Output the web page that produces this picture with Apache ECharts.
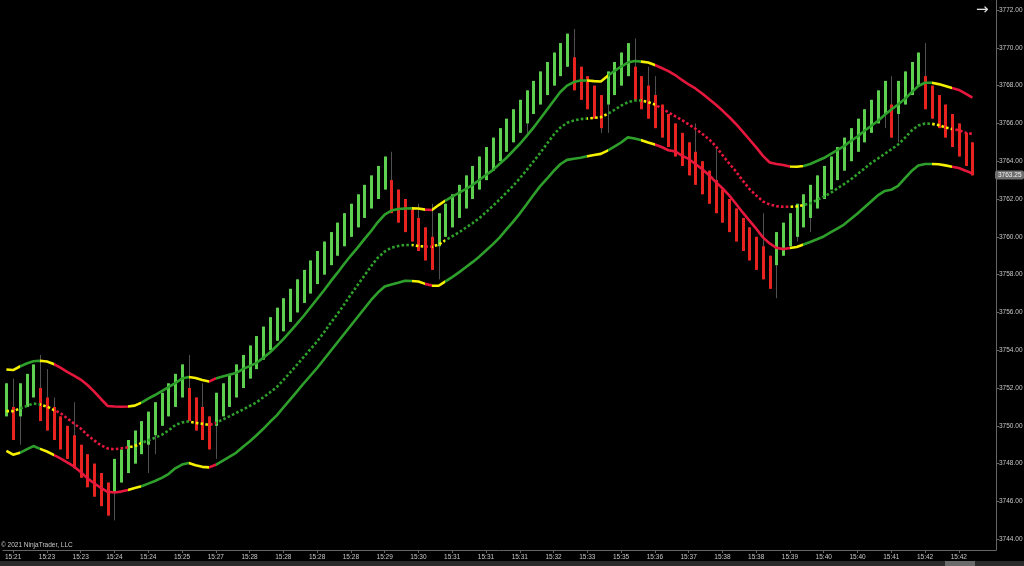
<!DOCTYPE html>
<html>
<head>
<meta charset="utf-8">
<script src="https://cdn.jsdelivr.net/npm/echarts@6/dist/echarts.min.js"></script>
<style>
html,body{margin:0;padding:0;background:#000;}
#c{width:1024px;height:566px;}
</style>
</head>
<body>
<div id="c"></div>
<script>
// ---- data ----
const tickLabels = ["15:21","15:23","15:23","15:24","15:24","15:25","15:27","15:28","15:28","15:28","15:28","15:29","15:30","15:31","15:31","15:31","15:32","15:33","15:35","15:36","15:37","15:38","15:38","15:39","15:40","15:40","15:41","15:42","15:42"];

const opens = [3750.5,3751,3750.5,3751,3751.5,3752,3751.5,3751,3750.5,3750,3749.5,3749,3748.5,3748,3747.5,3747,3746.5,3747,3747.5,3748,
3748.5,3749,3749.5,3750,3750.5,3751,3751.5,3752,3751.5,3751,3750.5,3750,3750.5,3751,3751.5,3752,3752.5,3753,3753.5,3754,
3754.5,3755,3755.5,3756,3756.5,3757,3757.5,3758,3758.5,3759,3759.5,3760,3760.5,3761,3761.5,3762,3762.5,3763,3762.5,3762,
3761.5,3761,3760.5,3760,3759.5,3760,3760.5,3761,3761.5,3762,3762.5,3763,3763.5,3764,3764.5,3765,3765.5,3766,3766.5,3767,
3767.5,3768,3768.5,3769,3769.5,3769,3768.5,3768,3767.5,3767,3767.5,3768,3768.5,3769,3768.5,3768,3767.5,3767,3766.5,3766,
3765.5,3765,3764.5,3764,3763.5,3763,3762.5,3762,3761.5,3761,3760.5,3760,3759.5,3759,3758.5,3759,3759.5,3760,3760.5,3761,
3761.5,3762,3762.5,3763,3763.5,3764,3764.5,3765,3765.5,3766,3766.5,3767,3766.5,3767,3767.5,3768,3768.5,3768,3767.5,3767,
3766.5,3766,3765.5,3765];

const closes = [3752.25,3749.25,3752.25,3752.75,3753.25,3750.25,3749.75,3749.25,3748.75,3748.25,3747.75,3747.25,3746.75,3746.25,3745.75,3745.25,3748.25,3748.75,3749.25,3749.75,
3750.25,3750.75,3751.25,3751.75,3752.25,3752.75,3753.25,3750.25,3749.75,3749.25,3748.75,3751.75,3752.25,3752.75,3753.25,3753.75,3754.25,3754.75,3755.25,3755.75,
3756.25,3756.75,3757.25,3757.75,3758.25,3758.75,3759.25,3759.75,3760.25,3760.75,3761.25,3761.75,3762.25,3762.75,3763.25,3763.75,3764.25,3761.25,3760.75,3760.25,
3759.75,3759.25,3758.75,3758.25,3761.25,3761.75,3762.25,3762.75,3763.25,3763.75,3764.25,3764.75,3765.25,3765.75,3766.25,3766.75,3767.25,3767.75,3768.25,3768.75,
3769.25,3769.75,3770.25,3770.75,3767.75,3767.25,3766.75,3766.25,3765.75,3768.75,3769.25,3769.75,3770.25,3767.25,3766.75,3766.25,3765.75,3765.25,3764.75,3764.25,
3763.75,3763.25,3762.75,3762.25,3761.75,3761.25,3760.75,3760.25,3759.75,3759.25,3758.75,3758.25,3757.75,3757.25,3760.25,3760.75,3761.25,3761.75,3762.25,3762.75,
3763.25,3763.75,3764.25,3764.75,3765.25,3765.75,3766.25,3766.75,3767.25,3767.75,3768.25,3765.25,3768.25,3768.75,3769.25,3769.75,3766.75,3766.25,3765.75,3765.25,
3764.75,3764.25,3763.75,3763.25];

// wick extremes beyond the body (null = no visible wick)
const highs = [null,3752.5,null,null,null,3753.75,3753,3751.5,null,null,3751.25,null,null,null,null,null,null,null,null,null,
null,null,null,null,null,null,null,3753.75,null,3752.25,null,null,null,null,null,null,null,null,null,null,
null,null,null,null,null,null,null,null,null,null,null,null,null,null,null,null,null,3764.5,null,null,
null,3761.75,null,3761.75,null,null,null,null,null,null,null,null,null,null,null,null,null,null,null,null,
null,null,null,null,3771,null,null,null,null,null,null,null,null,3770.5,null,3769,3768.5,null,null,null,
null,null,3766,null,null,3764.75,null,null,null,null,null,null,3761.25,null,null,null,null,null,null,null,
null,null,null,null,null,null,null,null,null,null,null,3768.5,null,null,null,null,3770.25,null,null,null,
null,null,null,null];
const lows = [null,null,3749,null,null,null,null,null,null,null,null,null,null,null,null,null,3745,null,null,null,
null,3747.5,3748.5,null,null,null,null,null,null,null,null,3748.25,null,null,null,null,null,null,null,null,
null,null,null,null,null,null,null,null,null,null,null,null,null,null,null,null,null,null,null,null,
null,null,null,null,3757.75,null,null,null,null,null,null,null,null,null,null,null,null,3765.5,null,null,
null,null,null,null,null,null,null,null,3765.5,3765.5,null,null,null,null,null,null,null,null,null,null,
null,null,null,null,null,null,null,null,null,null,null,null,null,null,3756.75,null,null,3759.75,null,3760.25,
null,null,null,null,null,null,null,null,null,null,3765.75,null,3765,null,null,null,null,null,null,null,
null,null,null,null];

const upperBand = [3752.98,3752.95,3753.14,3753.30,3753.42,3753.44,3753.40,3753.27,3753.08,3752.85,3752.66,3752.45,3752.16,3751.81,3751.42,3751.05,3751.02,3751.01,3751.02,3751.07,
3751.23,3751.44,3751.63,3751.84,3752.05,3752.26,3752.50,3752.58,3752.53,3752.42,3752.34,3752.51,3752.61,3752.70,3752.79,3753.00,3753.16,3753.32,3753.59,3753.88,
3754.22,3754.59,3754.99,3755.39,3755.81,3756.26,3756.71,3757.16,3757.64,3758.09,3758.56,3759.01,3759.43,3759.88,3760.31,3760.78,3761.18,3761.39,3761.47,3761.50,
3761.51,3761.50,3761.44,3761.42,3761.68,3761.92,3762.13,3762.32,3762.53,3762.74,3763.01,3763.27,3763.53,3763.85,3764.17,3764.54,3764.91,3765.33,3765.76,3766.23,
3766.71,3767.19,3767.66,3768.00,3768.19,3768.27,3768.27,3768.24,3768.22,3768.51,3768.77,3769.01,3769.22,3769.30,3769.27,3769.22,3769.09,3768.93,3768.77,3768.56,
3768.30,3768.06,3767.85,3767.58,3767.29,3767.00,3766.68,3766.34,3765.97,3765.57,3765.15,3764.73,3764.28,3763.93,3763.85,3763.80,3763.72,3763.71,3763.75,3763.85,
3764.01,3764.17,3764.38,3764.59,3764.80,3765.07,3765.31,3765.60,3765.86,3766.13,3766.45,3766.74,3767.00,3767.29,3767.64,3767.98,3768.15,3768.15,3768.08,3767.98,
3767.87,3767.77,3767.58,3767.37];

const middleLine = [3750.78,3750.78,3750.91,3751.05,3751.18,3751.13,3751.02,3750.84,3750.68,3750.40,3750.12,3749.86,3749.51,3749.23,3748.97,3748.80,3748.76,3748.81,3748.86,3748.93,
3749.09,3749.23,3749.37,3749.52,3749.75,3750.04,3750.18,3750.23,3750.16,3750.11,3750.05,3750.14,3750.33,3750.50,3750.68,3750.86,3751.05,3751.23,3751.50,3751.76,
3752.04,3752.42,3752.82,3753.22,3753.64,3754.05,3754.46,3754.94,3755.44,3755.91,3756.42,3756.95,3757.45,3757.95,3758.45,3758.90,3759.22,3759.43,3759.51,3759.57,
3759.57,3759.51,3759.49,3759.48,3759.59,3759.82,3760.03,3760.23,3760.48,3760.72,3760.98,3761.30,3761.63,3761.97,3762.33,3762.69,3763.09,3763.53,3763.97,3764.43,
3764.91,3765.39,3765.78,3766.03,3766.15,3766.23,3766.26,3766.29,3766.33,3766.50,3766.71,3766.94,3767.12,3767.21,3767.21,3767.13,3767.00,3766.79,3766.59,3766.38,
3766.18,3765.95,3765.72,3765.45,3765.17,3764.80,3764.33,3763.88,3763.46,3762.98,3762.53,3762.19,3761.87,3761.71,3761.62,3761.59,3761.59,3761.61,3761.68,3761.77,
3761.95,3762.13,3762.32,3762.56,3762.79,3763.03,3763.32,3763.61,3763.90,3764.14,3764.38,3764.63,3764.88,3765.23,3765.62,3765.89,3765.99,3765.98,3765.91,3765.79,
3765.70,3765.64,3765.51,3765.44];

const lowerBand = [3748.68,3748.47,3748.57,3748.75,3748.93,3748.78,3748.64,3748.46,3748.28,3748.07,3747.85,3747.56,3747.22,3746.96,3746.71,3746.51,3746.47,3746.52,3746.61,3746.71,
3746.80,3746.94,3747.08,3747.25,3747.45,3747.75,3747.95,3748.03,3747.91,3747.83,3747.80,3747.94,3748.15,3748.36,3748.57,3748.88,3749.17,3749.49,3749.83,3750.20,
3750.54,3750.97,3751.39,3751.81,3752.24,3752.65,3753.06,3753.51,3753.96,3754.41,3754.86,3755.31,3755.76,3756.21,3756.66,3757.05,3757.37,3757.48,3757.57,3757.67,
3757.66,3757.64,3757.51,3757.42,3757.41,3757.64,3757.87,3758.12,3758.39,3758.66,3758.95,3759.28,3759.60,3759.96,3760.38,3760.79,3761.23,3761.71,3762.20,3762.67,
3763.06,3763.48,3763.84,3764.07,3764.13,3764.18,3764.26,3764.33,3764.39,3764.56,3764.77,3764.99,3765.26,3765.20,3765.11,3764.99,3764.88,3764.75,3764.58,3764.52,
3764.30,3764.12,3763.85,3763.58,3763.27,3762.91,3762.57,3762.19,3761.75,3761.29,3760.86,3760.43,3759.97,3759.65,3759.42,3759.35,3759.41,3759.46,3759.59,3759.73,
3759.87,3760.02,3760.23,3760.44,3760.65,3760.94,3761.23,3761.55,3761.87,3762.19,3762.42,3762.49,3762.69,3763.09,3763.48,3763.77,3763.85,3763.85,3763.84,3763.78,
3763.71,3763.64,3763.50,3763.35];

// trend state of the bands: runs of [state, bar count]
const trendRuns = [['Y',2],['G',3],['Y',2],['R',11],['Y',2],['G',7],['Y',3],['R',1],['G',29],['Y',2],['R',1],['Y',2],
['G',21],['Y',3],['G',5],['Y',2],['R',20],['Y',2],['G',19],['Y',3],['R',4]];

const yTicks = [3744,3746,3748,3750,3752,3754,3756,3758,3760,3762,3764,3766,3768,3770,3772];
const lastPrice = 3763.25;

// ---- chart ----
const nBars = opens.length;
const nSlots = nBars + 3;
const categories = [];
for (let i = 0; i < nSlots; i++) categories.push(String(i));

const candleData = opens.map((o, i) => {
  const c = closes[i];
  const lo = lows[i] != null ? lows[i] : Math.min(o, c);
  const hi = highs[i] != null ? highs[i] : Math.max(o, c);
  return [i, o, c, lo, hi];
});

const stateColor = {G: '#2e9f2b', R: '#e6173d', Y: '#f5f000'};
const pieces = [];
let start = 0;
trendRuns.forEach(([s, n]) => {
  pieces.push({gte: start - 0.5, lt: start + n - 0.5, color: stateColor[s]});
  start += n;
});

const FONT = 'Liberation Sans, Arial, sans-serif';
const chart = echarts.init(document.getElementById('c'), null, {renderer: 'canvas'});

const option = {
  backgroundColor: '#000',
  animation: false,
  grid: {left: 3, right: 28, top: 0, bottom: 16, containLabel: false, outerBoundsMode: 'none'},
  xAxis: {
    type: 'category',
    data: categories,
    boundaryGap: true,
    axisLine: {show: true, lineStyle: {color: '#666', width: 1}},
    axisTick: {show: true, alignWithLabel: true, length: 3, lineStyle: {color: '#666'},
      interval: (idx) => idx % 5 === 1 && idx <= 141},
    axisLabel: {
      interval: (idx) => idx % 5 === 1 && idx <= 141,
      formatter: (v, idx) => tickLabels[(idx - 1) / 5] || '',
      color: '#c8c8c8', fontSize: 6.5, margin: 4, fontFamily: FONT
    },
    splitLine: {show: false}
  },
  yAxis: {
    type: 'value',
    position: 'right',
    min: 3743.43,
    max: 3772.53,
    scale: true,
    axisLine: {show: true, lineStyle: {color: '#666', width: 1}},
    axisTick: {show: true, customValues: yTicks, length: 3, lineStyle: {color: '#666'}},
    axisLabel: {customValues: yTicks, formatter: (v) => v.toFixed(2), color: '#c8c8c8', fontSize: 6.5,
      margin: 3, fontFamily: FONT},
    splitLine: {show: false}
  },
  visualMap: {
    type: 'piecewise', show: false, dimension: 0, seriesIndex: [1, 2, 3],
    pieces: pieces
  },
  series: [
    {
      type: 'custom',
      data: candleData,
      z: 2,
      renderItem: function (params, api) {
        const i = api.value(0), o = api.value(1), c = api.value(2), lo = api.value(3), hi = api.value(4);
        const pO = api.coord([i, o]), pC = api.coord([i, c]);
        const pL = api.coord([i, lo]), pH = api.coord([i, hi]);
        const cx = Math.round(pO[0]);
        const top = Math.min(pO[1], pC[1]);
        const h = Math.abs(pO[1] - pC[1]);
        return {
          type: 'group',
          children: [
            {type: 'line', shape: {x1: cx + 0.5, y1: pH[1], x2: cx + 0.5, y2: pL[1]},
              style: {stroke: '#505050', lineWidth: 1}},
            {type: 'rect', shape: {x: cx - 1, y: top, width: 3, height: h},
              style: {fill: c >= o ? '#5dd04f' : '#e8231f'}}
          ]
        };
      }
    },
    {type: 'line', data: upperBand, symbol: 'none', z: 5, lineStyle: {width: 2.6}},
    {type: 'line', data: middleLine, symbol: 'none', z: 5, lineStyle: {width: 2.6, type: [2.6, 2.2]}},
    {type: 'line', data: lowerBand, symbol: 'none', z: 5, lineStyle: {width: 2.6}}
  ]
};
chart.setOption(option);

const py = chart.convertToPixel({yAxisIndex: 0}, lastPrice);
chart.setOption({
  graphic: [
    {type: 'text', left: 1, top: 542, style: {text: '\u00A9 2021 NinjaTrader, LLC', fill: '#c8c8c8', fontSize: 6.5,
      fontFamily: FONT}},
    {type: 'text', left: 976, top: 3, style: {text: '\u2192', fill: '#e0e0e0', fontSize: 15,
      fontFamily: 'DejaVu Sans, sans-serif'}},
    {type: 'rect', shape: {x: 995, y: Math.round(py) - 4.5, width: 29, height: 9, r: 2},
      style: {fill: '#6e6e6e'}, z: 100},
    {type: 'text', x: 998, y: Math.round(py), style: {text: lastPrice.toFixed(2), fill: '#f0f0f0', fontSize: 6.5,
      verticalAlign: 'middle', fontFamily: FONT}, z: 101},
    {type: 'rect', shape: {x: 0, y: 561, width: 1024, height: 5}, style: {fill: '#2a2a2a'}, z: 50},
    {type: 'rect', shape: {x: 945, y: 561, width: 30, height: 5}, style: {fill: '#6a6a6a'}, z: 51}
  ]
});
</script>
</body>
</html>
